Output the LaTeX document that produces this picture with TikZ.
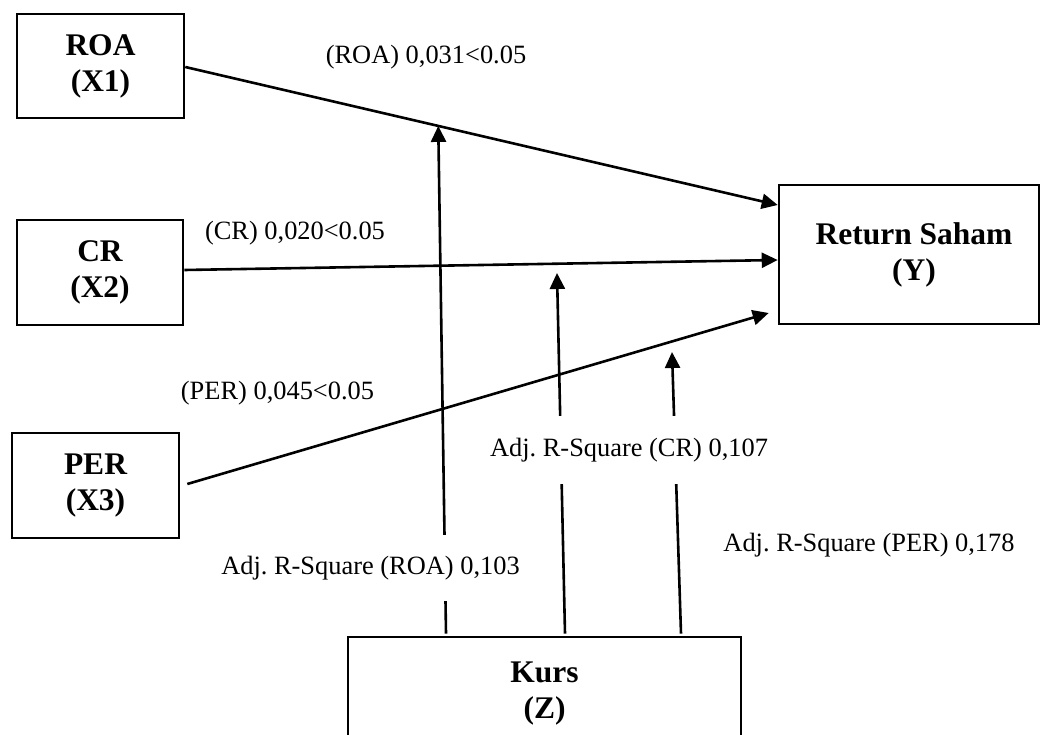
\documentclass[tikz,border=0pt]{standalone}
\usepackage{fontspec}
\setmainfont{Liberation Serif}
\usetikzlibrary{arrows.meta}
\frenchspacing
\begin{document}
\begin{tikzpicture}[x=1pt,y=-1pt,
  box/.style={draw, line width=2.6pt, align=center, inner sep=0pt,
    font=\fontsize{31.5}{36}\selectfont\bfseries},
  lbl/.style={inner sep=0pt, font=\fontsize{26.4}{30}\selectfont},
  gaplbl/.style={lbl, fill=white},
  conn/.style={line width=2.6pt, -{Triangle[length=16pt,width=15pt]}}]
\useasboundingbox (0,0) rectangle (1041,735);
\clip (0,0) rectangle (1041,735);

\node[box, minimum width=167pt, minimum height=104pt] (roa) at (100.5,66) {ROA\\(X1)};
\node[box, minimum width=166pt, minimum height=105pt] (cr) at (100,272.5) {CR\\(X2)};
\node[box, minimum width=167pt, minimum height=105pt] (per) at (95.5,485.5) {PER\\(X3)};
\node[box, minimum width=260pt, minimum height=139pt] (y) at (909,254.5) {\hspace*{10pt}Return Saham\\\hspace*{10pt}(Y)};
\node[box, minimum width=393pt, minimum height=114pt] (z) at (544.5,694) {Kurs\\(Z)};

\draw[conn] ([yshift=-1pt]roa.east) -- coordinate[pos=0.427] (m1) ([yshift=49.5pt]y.west);
\draw[conn] ([yshift=2.5pt]cr.east) -- ([yshift=-5.5pt]y.west);
\draw[conn] ([xshift=7pt,yshift=1.5pt]per.east) -- ([xshift=-9pt,yshift=-58.5pt]y.west);

\coordinate (t2) at (557,273);
\coordinate (t3) at (672,352);
\draw[conn] ([xshift=-98.5pt,yshift=2pt]z.north) -- (m1);
\draw[conn] ([xshift=20.5pt,yshift=2pt]z.north) -- (t2);
\draw[conn] ([xshift=136.5pt,yshift=2pt]z.north) -- (t3);

\node[lbl] (a1) at (426,57) {(ROA) 0,031<0.05};
\node[lbl] (a2) at (295,233) {(CR) 0,020<0.05};
\node[lbl] (a3) at (277.5,393) {(PER) 0,045<0.05};
\node[gaplbl, minimum height=66pt] (r1) at (370.5,568) {Adj. R-Square (ROA) 0,103};
\node[gaplbl, minimum height=68pt] (r2) at (629,450) {Adj. R-Square (CR) 0,107};
\node[lbl] (r3) at (869,545) {Adj. R-Square (PER) 0,178};
\end{tikzpicture}
\end{document}
